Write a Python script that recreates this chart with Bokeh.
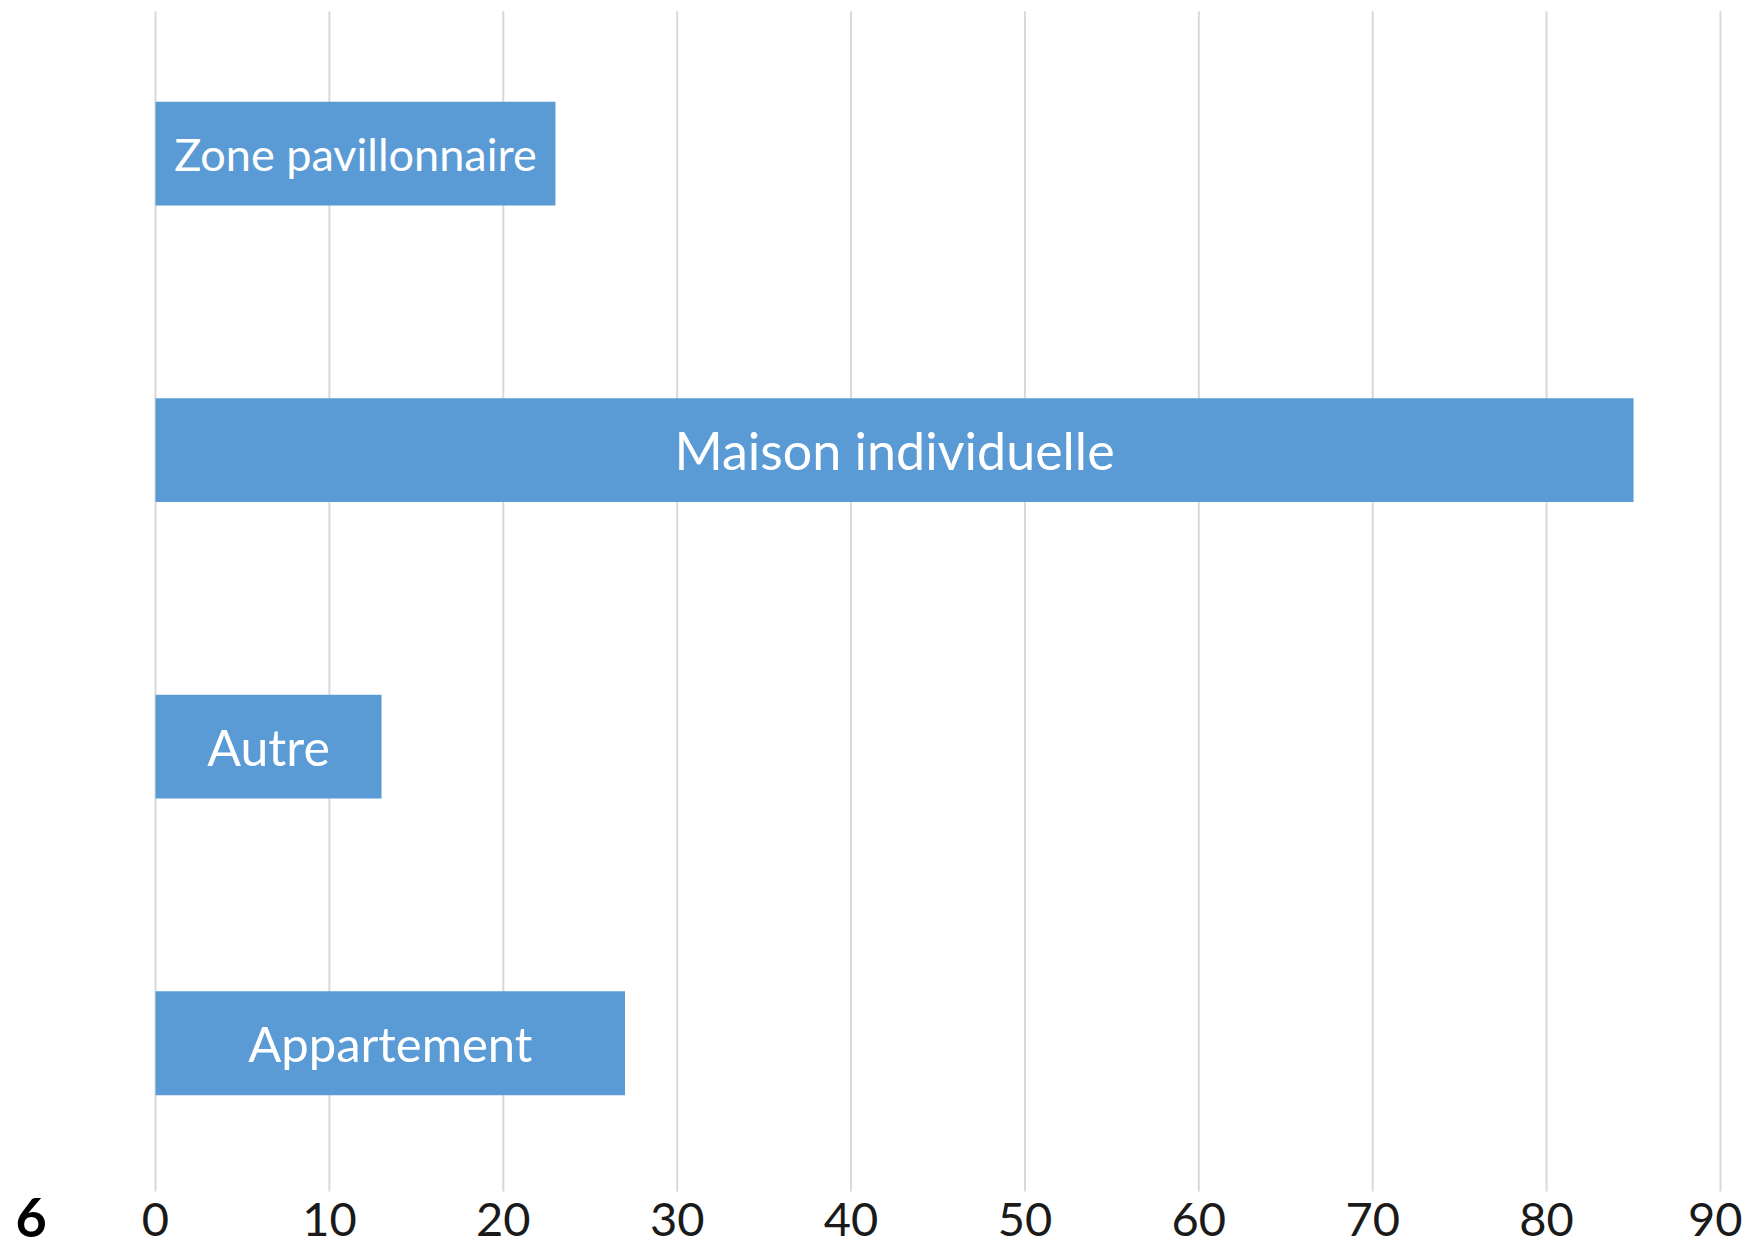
from bokeh.plotting import figure
from bokeh.models import ColumnDataSource, Label, FixedTicker, Range1d, LinearAxis
from bokeh.core.properties import value
from bokeh.embed import file_html
from bokeh.resources import INLINE

# Data (bottom to top)
categories = ["Appartement", "Autre", "Maison individuelle", "Zone pavillonnaire"]
values = [27, 13, 85, 23]
x_ticks = [0, 10, 20, 30, 40, 50, 60, 70, 80, 90]

FONT = "Lato"
label_sizes = ["49px", "50px", "52px", "45px"]

pos = list(range(len(categories)))
src = ColumnDataSource(dict(
    cat=categories,
    pos=pos,
    val=values,
    mid=[v / 2 for v in values],
    size=label_sizes,
))

# layout constants (data-space extents of the plotting band)
GRID_BOTTOM = -0.5
GRID_TOP = len(categories) - 0.52

p = figure(
    width=1742, height=1249,
    x_range=Range1d(-8.914, 91.265), y_range=Range1d(-0.6955, 3.516),
    output_backend="svg", toolbar_location=None,
    min_border_left=0, min_border_right=0,
    min_border_top=0, min_border_bottom=0,
    x_axis_type=None, y_axis_type=None,
)
p.grid.visible = False
p.outline_line_color = None

# vertical gridlines
gsrc = ColumnDataSource(dict(t=x_ticks,
                             y0=[GRID_BOTTOM] * len(x_ticks),
                             y1=[GRID_TOP] * len(x_ticks)))
p.segment(x0="t", y0="y0", x1="t", y1="y1", source=gsrc,
          line_color="#d9d9d9", line_width=2)

p.hbar(y="pos", right="val", left=0, height=0.35, source=src,
       fill_color="#5b9bd5", line_color=None)

p.text(x="mid", y="pos", text="cat", source=src,
       text_color="white", text_font=value(FONT), text_font_size="size",
       text_align="center", text_baseline="middle")

xaxis = LinearAxis(ticker=FixedTicker(ticks=x_ticks), fixed_location=GRID_BOTTOM)
xaxis.axis_line_color = None
xaxis.major_tick_line_color = None
xaxis.minor_tick_line_color = None
xaxis.major_label_text_font = FONT
xaxis.major_label_text_font_size = "47px"
xaxis.major_label_text_color = "#1a1a1a"
xaxis.major_label_standoff = 5
p.add_layout(xaxis, "below")

p.add_layout(Label(x=15, y=32, x_units="screen", y_units="screen", text="6",
                   text_font=FONT, text_font_size="54px", text_font_style="bold",
                   text_baseline="alphabetic", text_color="black"))

open("out.html", "w").write(file_html(p, INLINE))
